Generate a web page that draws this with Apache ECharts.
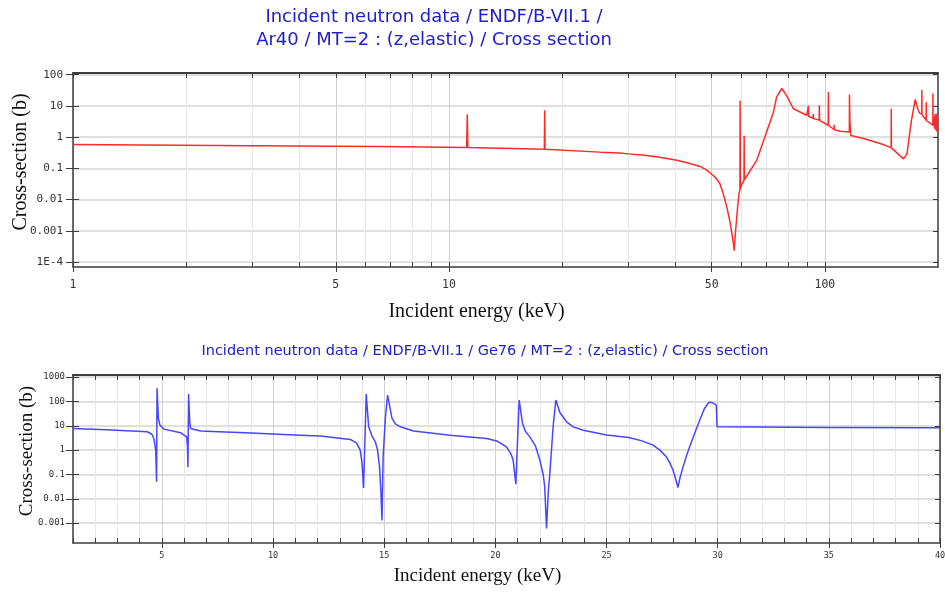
<!DOCTYPE html>
<html><head><meta charset="utf-8">
<script src="https://cdn.jsdelivr.net/npm/echarts@6/dist/echarts.min.js"></script>
<style>html,body{margin:0;padding:0;background:#fff}#c{width:945px;height:592px}</style>
</head><body><div id="c"></div>
<script>
// ---- Ar40 (top chart) ----
const arEnergy = [1, 3, 6.5, 11.15, 11.19, 11.23, 17.94, 17.98, 18.02, 25.2, 28.5, 30, 33, 36, 40.4, 43, 46.6, 48.5, 50.5, 51.6, 52.6, 53.7, 54.9, 55.9, 56.6, 57.1, 57.4, 57.8, 58.3, 58.7, 59.1,
  59.45, 59.5, 59.6, 60.2, 60.95, 61.0, 61.1, 65.9, 73.0, 74.4, 76.8, 79.0, 82.5, 89.5, 90.3, 90.4, 90.55, 93.1, 93.2, 93.35, 96.6, 96.7, 96.85,
  102.1, 102.2, 102.35, 105.8, 105.9, 106.05, 109.8, 116.2, 116.3, 116.6, 117.3, 126.7, 140.4, 150.1, 150.2, 150.35, 161.9, 165.4,
  170, 174, 176.5, 178.8, 181.1, 181.2, 181.35, 186.0, 186.1, 186.25, 193.8, 193.9, 194.05, 195.5, 195.6, 195.7, 196.5, 196.6, 196.7,
  197.5, 197.6, 197.7, 198.4, 198.5, 198.6, 199.3, 199.4, 199.5, 200];
const arSigma = [0.58, 0.53, 0.5, 0.46, 5.4, 0.46, 0.41, 7.2, 0.41, 0.33, 0.31, 0.29, 0.26, 0.23, 0.18, 0.15, 0.115, 0.088, 0.059, 0.045, 0.032, 0.015, 0.0055, 0.002, 0.0008, 0.0004, 0.00023, 0.0008, 0.0027, 0.007, 0.0155,
  0.02, 15, 0.022, 0.032, 0.041, 1.1, 0.043, 0.18, 6.3, 19, 36, 22, 8.1, 5.0, 4.7, 10, 4.6, 4.0, 5.6, 3.9, 3.5, 10.5, 3.45,
  2.4, 28, 2.35, 1.75, 2.5, 1.72, 1.55, 1.45, 23, 3, 1.12, 0.9, 0.62, 0.46, 8.1, 0.45, 0.2, 0.29,
  3.5, 16, 8.2, 5.8, 5.6, 32, 5.2, 3.5, 13, 3.4, 2.4, 25, 2.3, 2.0, 4.5, 1.9, 1.8, 5.6, 1.8,
  1.7, 5.0, 1.6, 1.5, 5.6, 1.5, 1.45, 4.5, 1.45, 1.45];
const arXAllTicks = [1, 2, 3, 4, 5, 6, 7, 8, 9, 10, 20, 30, 40, 50, 60, 70, 80, 90, 100];
const arXLabels = [1, 5, 10, 50, 100];
const arYTicks = [1e-4, 1e-3, 0.01, 0.1, 1, 10, 100];

// ---- Ge76 (bottom chart) ----
const geEnergy = [1.0, 2.5, 4.34, 4.55, 4.64, 4.72, 4.76, 4.78, 4.84, 4.91, 5.09, 5.84, 6.11, 6.15, 6.17, 6.2, 6.25, 6.29, 6.74, 9, 11.23, 12.13,
  13.47, 13.75, 13.92, 14.0, 14.07, 14.19, 14.3, 14.45, 14.6, 14.7, 14.79, 14.85, 14.9, 14.95, 15.05, 15.15, 15.35, 15.5, 15.72, 16.32, 17.96, 19.61, 20.1,
  20.5, 20.7, 20.8, 20.92, 21.07, 21.22, 21.35, 21.55, 21.8, 22.0, 22.15, 22.22, 22.3, 22.38, 22.45, 22.6, 22.72, 22.9, 23.2, 23.5,
  23.95, 25.0, 26.0, 26.6, 27.09, 27.4, 27.69, 27.85, 27.99, 28.1, 28.21, 28.3, 28.44, 28.6, 28.74, 29.0, 29.19, 29.4, 29.6, 29.75, 29.94, 29.97, 35, 40];
const geSigma = [7.8, 6.8, 5.7, 4.5, 3.0, 1.0, 0.05, 350, 20, 10.7, 7.3, 5.2, 3.5, 1.5, 0.2, 200, 15, 7.8, 6.1, 5.0, 4.1, 3.8,
  2.75, 2.0, 1.0, 0.3, 0.028, 200, 9.1, 3.8, 2.2, 1.0, 0.2, 0.02, 0.0013, 0.5, 20, 183, 20, 12, 9.1, 6.1, 4.1, 3.0, 2.3,
  1.37, 0.7, 0.39, 0.04, 114, 12.5, 6, 3.5, 1.5, 0.39, 0.1, 0.031, 0.0006, 0.02, 0.11, 10, 114, 35, 14.6, 9,
  6.6, 4.2, 3.3, 2.4, 1.6, 1.0, 0.53, 0.3, 0.15, 0.07, 0.029, 0.07, 0.2, 0.6, 1.37, 6, 17, 50, 92, 90, 71, 9.1, 8.6, 8.3];
const geXLabels = [5, 10, 15, 20, 25, 30, 35, 40];
const geYTicks = [0.001, 0.01, 0.1, 1, 10, 100, 1000];

const FRAME = '#3c3c3c';
const monoFont = 'DejaVu Sans Mono';
const serif = 'Liberation Serif';

function logLabel(v) {
  const e = Math.round(Math.log10(v));
  if (e <= -4) return '1E-4';
  if (e >= 0) return String(Math.round(Math.pow(10, e)));
  return Math.pow(10, e).toFixed(-e);
}

const chart = echarts.init(document.getElementById('c'), null, { renderer: 'canvas' });

function xAxesFor(grid, base, labelVals, labelSize, labelMargin, nameGap, nameSize) {
  return [
    Object.assign({ gridIndex: grid, position: 'bottom',
      axisLine: { show: true, lineStyle: { color: FRAME, width: 1.5 } },
      axisLabel: { show: false },
      splitLine: { show: true, lineStyle: { color: '#e6e6e6', width: 1 } },
      axisTick: Object.assign({ inside: true, length: 5, lineStyle: { color: FRAME } }, base.minorTick) }, base.axis),
    Object.assign({ gridIndex: grid, position: 'bottom',
      axisLine: { show: false },
      axisTick: { customValues: labelVals, inside: false, length: 5, lineStyle: { color: FRAME } },
      axisLabel: { customValues: labelVals, margin: labelMargin, fontFamily: monoFont, fontSize: labelSize, color: '#333' },
      splitLine: { show: true, lineStyle: { color: '#cfcfcf', width: 1 } },
      name: 'Incident energy (keV)', nameLocation: 'middle', nameGap: nameGap, nameMoveOverlap: false,
      nameTextStyle: { fontFamily: serif, fontSize: nameSize, color: '#111', padding: [0, 58, 0, 0] } }, base.axis),
    Object.assign({ gridIndex: grid, position: 'top',
      axisLine: { show: true, lineStyle: { color: FRAME, width: 2 } },
      axisLabel: { show: false }, splitLine: { show: false },
      axisTick: Object.assign({ inside: true, length: 5, lineStyle: { color: FRAME } }, base.minorTick) }, base.axis)
  ];
}

function yAxesFor(grid, axis, ticks, labelSize, nameGap, nameSize, labelMargin) {
  return [
    Object.assign({ gridIndex: grid, position: 'left',
      axisLine: { show: true, lineStyle: { color: FRAME, width: 1.5 } },
      axisTick: { customValues: ticks, inside: true, length: 6, lineStyle: { color: FRAME } },
      axisLabel: { customValues: ticks, formatter: logLabel, margin: labelMargin, fontFamily: monoFont, fontSize: labelSize, color: '#333' },
      splitLine: { show: true, lineStyle: { color: '#d4d4d4', width: 1.5 } },
      name: 'Cross-section (b)', nameLocation: 'middle', nameGap: nameGap, nameMoveOverlap: false,
      nameTextStyle: { fontFamily: serif, fontSize: nameSize, color: '#111', padding: [0, 0, 0, 16] } }, axis),
    Object.assign({ gridIndex: grid, position: 'left',
      axisLine: { show: false },
      axisTick: { customValues: ticks, inside: false, length: 7, lineStyle: { color: FRAME } },
      axisLabel: { show: false }, splitLine: { show: false } }, axis),
    Object.assign({ gridIndex: grid, position: 'right',
      axisLine: { show: true, lineStyle: { color: FRAME, width: 1.5 } },
      axisTick: { customValues: ticks, inside: true, length: 5, lineStyle: { color: FRAME } },
      axisLabel: { show: false }, splitLine: { show: false } }, axis)
  ];
}

const topX = xAxesFor(0, { axis: { type: 'log', logBase: 10, min: 1, max: 200 }, minorTick: { customValues: arXAllTicks } }, arXLabels, 11.5, 12, 35, 20);
const botX = xAxesFor(1, { axis: { type: 'value', min: 1, max: 40, interval: 1 }, minorTick: {} }, geXLabels, 8.5, 8, 24, 19);
const topY = yAxesFor(0, { type: 'log', logBase: 10, min: 6.9e-5, max: 113 }, arYTicks, 11, 42, 20, 10);
const botY = yAxesFor(1, { type: 'log', logBase: 10, min: 1.53e-4, max: 1220 }, geYTicks, 9, 36, 19, 8);

const titleStyle = (txt, x, y, size) => ({
  type: 'text', x: x, y: y, silent: true,
  style: { text: txt, fill: '#2020c6', fontFamily: 'DejaVu Sans', fontSize: size,
           align: 'center', verticalAlign: 'middle', textAlign: 'center', textVerticalAlign: 'middle' }
});

chart.setOption({
  animation: false,
  backgroundColor: '#fff',
  grid: [
    { left: 73, right: 7, top: 73, height: 194, outerBoundsMode: 'none', containLabel: false },
    { left: 73, right: 5, top: 375, height: 168, outerBoundsMode: 'none', containLabel: false }
  ],
  xAxis: topX.concat(botX),
  yAxis: topY.concat(botY),
  graphic: [
    titleStyle('Incident neutron data / ENDF/B-VII.1 /', 434, 17, 18),
    titleStyle('Ar40 / MT=2 : (z,elastic) / Cross section', 434, 40, 18),
    titleStyle('Incident neutron data / ENDF/B-VII.1 / Ge76 / MT=2 : (z,elastic) / Cross section', 485, 351, 14.5)
  ],
  series: [
    { type: 'line', xAxisIndex: 0, yAxisIndex: 0, showSymbol: false, symbol: 'none', clip: true,
      lineStyle: { color: '#ff2a2a', width: 1.5 },
      data: arEnergy.map((e, i) => [e, arSigma[i]]) },
    { type: 'line', xAxisIndex: 3, yAxisIndex: 3, showSymbol: false, symbol: 'none', clip: true,
      lineStyle: { color: '#4646ff', width: 1.5 },
      data: geEnergy.map((e, i) => [e, geSigma[i]]) }
  ]
});
</script></body></html>
